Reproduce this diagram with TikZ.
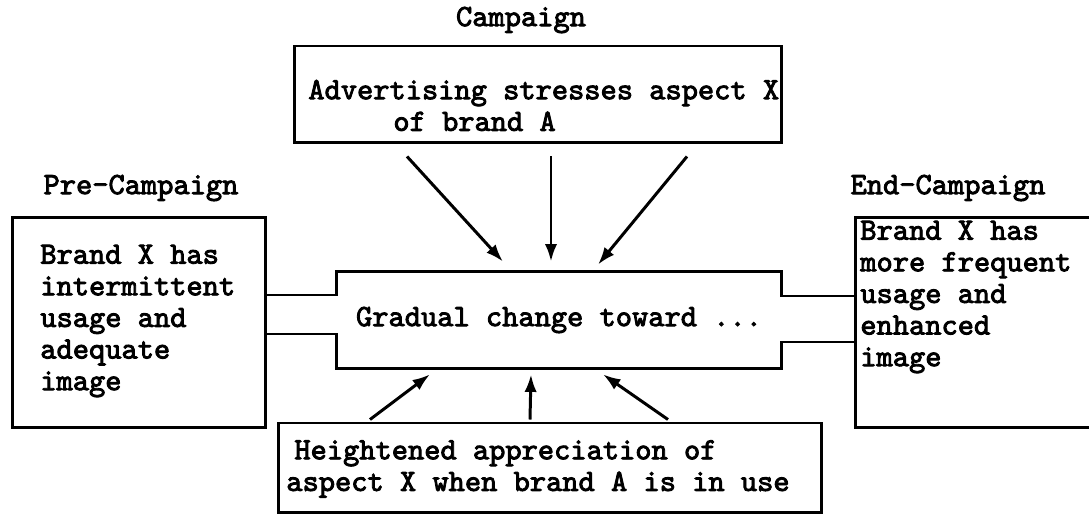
\documentclass[tikz,border=0pt]{standalone}
\usepackage{fontspec}
\newfontfamily\typew{lmmono10-regular.otf}[FakeBold=2.8]
\usetikzlibrary{arrows.meta,calc}
\tikzset{
	frame/.style={draw, line width=1.7pt, inner sep=0pt},
	wire/.style={line width=1.7pt},
	txt/.style={font=\typew\fontsize{17.6}{18}\selectfont, align=left, inner sep=0pt},
	arr/.style={line width=1.7pt, -{Latex[length=10pt,width=7pt]}},
}

\begin{document}
\begin{tikzpicture}[x=0.02cm, y=-0.02cm]
		%%%%% START %%%%%
		\useasboundingbox (0,0) rectangle (1089,516);
		
		\node[frame, minimum width=9.76cm, minimum height=1.94cm] (adv) at (538, 94.5) {};
		\node[frame, minimum width=5.08cm, minimum height=4.22cm] (pre) at (139, 322.5) {};
		\node[frame, minimum width=5.3cm, minimum height=4.22cm] (post) at (987.5, 322.5) {};
		\node[frame, minimum width=10.88cm, minimum height=1.8cm] (appr) at (550, 468) {};
		\node[txt, minimum width=8.9cm, minimum height=1.92cm] (chg) at (559, 320) {Gradual change toward ...};
		
		\node[txt] (camp) at (521, 20) {Campaign};
		\node[txt] (precamp) at (141, 188) {Pre-Campaign};
		\node[txt] (endcamp) at (948, 188) {End-Campaign};
		
		\node[txt, anchor=west] (advtxt) at (308, 105.5) {Advertising stresses aspect X\\\hspace*{2.75em}of brand A};
		\node[txt, anchor=west] (pretxt) at (40, 321) {Brand X has\\intermittent\\usage and\\adequate\\image};
		\node[txt, anchor=west] (posttxt) at (860, 297) {Brand X has\\more frequent\\usage and\\enhanced\\image};
		\node[txt, anchor=west] (apprtxt) at (286, 469) {\hspace*{.26em}Heightened appreciation of\\aspect X when brand A is in use};
		
		% the channel round the change
		\coordinate (ul) at (0, 295);
		\coordinate (ll) at (0, 334);
		\coordinate (ur) at (0, 296);
		\coordinate (lr) at (0, 342);
		\draw[wire] (pre.east |- ul) -| (chg.north west) -- (chg.north east) |- (post.west |- ur);
		\draw[wire] (pre.east |- ll) -| (chg.south west) -- (chg.south east) |- (post.west |- lr);
		
		\draw[arr] ($(adv.south)+(-131, 12)$) -- ($(chg.north)+(-56, -10)$);
		\draw[arr] ($(adv.south)+(13, 12)$) -- ($(chg.north)+(-8, -10)$);
		\draw[arr] ($(adv.south)+(149, 12)$) -- ($(chg.north)+(39, -7)$);
		
		\draw[arr] ($(appr.north)+(-180, -2)$) -- ($(chg.south)+(-129, 6)$);
		\draw[arr] ($(appr.north)+(-20, -2)$) -- ($(chg.south)+(-28, 6)$);
		\draw[arr] ($(appr.north)+(118, -2)$) -- ($(chg.south)+(44, 6)$);
		
		%%%%% END %%%%%
	\end{tikzpicture}
\end{document}
